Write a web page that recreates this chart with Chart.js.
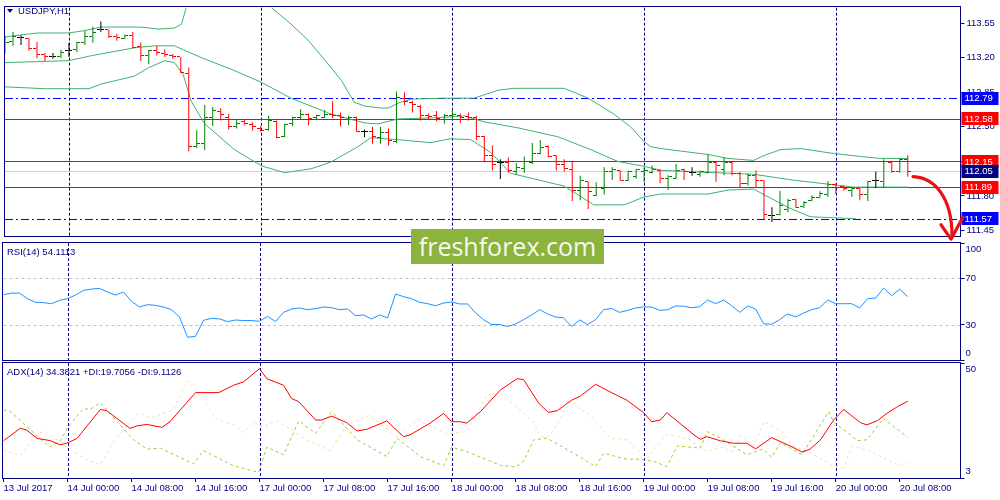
<!DOCTYPE html>
<html><head><meta charset="utf-8">
<script src="https://cdn.jsdelivr.net/npm/chart.js@4.4.1/dist/chart.umd.min.js"></script>
<style>
html,body{margin:0;padding:0;background:#fff;}
#wrap{position:relative;width:1000px;height:500px;overflow:hidden;background:#fff;font-family:"Liberation Sans",Arial,sans-serif;}
canvas{position:absolute;left:0;}
#cMain{top:0;} #cRsi{top:242px;} #cAdx{top:362px;}
.ttl{position:absolute;font-size:9.5px;color:#000080;white-space:nowrap;line-height:12px;}
#tri{position:absolute;left:7px;top:9px;width:0;height:0;border-left:3px solid transparent;border-right:3px solid transparent;border-top:4px solid #000080;}
#wm{position:absolute;left:411px;top:229px;width:193px;height:35px;background:#8db33f;color:#f6f9ef;font-family:"Open Sans",sans-serif;font-size:25px;line-height:34px;text-align:center;}
</style></head>
<body>
<div id="wrap">
<canvas id="cRsi" width="1000" height="120"></canvas>
<canvas id="cAdx" width="1000" height="138"></canvas>
<canvas id="cMain" width="1000" height="244"></canvas>
<div id="tri"></div>
<div class="ttl" style="left:18px;top:5px;">USDJPY,H1</div>
<div class="ttl" style="left:7px;top:246px;">RSI(14) 54.1113</div>
<div class="ttl" style="left:7px;top:366px;">ADX(14) 34.3821 +DI:19.7056 -DI:9.1126</div>
<div id="wm">freshforex.com</div>
</div>
<script>
// ---------- DATA ----------
const tickIdx = [0,8,16,24,32,40,48,56,64,72,80,88,96,104,112];
const tickLabels = ["13 Jul 2017","14 Jul 00:00","14 Jul 08:00","14 Jul 16:00","17 Jul 00:00","17 Jul 08:00","17 Jul 16:00","18 Jul 00:00","18 Jul 08:00","18 Jul 16:00","19 Jul 00:00","19 Jul 08:00","19 Jul 16:00","20 Jul 00:00","20 Jul 08:00"];
const daySepIdx = [8,32,56,80,104];
const priceTicks = [113.55,113.20,112.85,112.50,112.15,111.80,111.45];
const levelRed = [112.58,112.15,111.89];
const levelBlue = [112.79,111.57];
const bidPrice = 112.05;
const rsiLevels = [70,30];
const rsiAxis = [100,70,30,0];
const adxAxis = [50,3];

const openP = [113.296,113.361,113.400,113.390,113.296,113.231,113.215,113.208,113.273,113.280,
113.351,113.417,113.482,113.482,113.410,113.397,113.426,113.312,113.224,113.270,
113.247,113.221,113.208,113.045,112.303,112.336,112.596,112.655,112.596,112.499,
112.557,112.525,112.482,112.473,112.557,112.401,112.531,112.596,112.629,112.590,
112.596,112.629,112.613,112.570,112.596,112.456,112.450,112.394,112.440,112.352,
112.785,112.749,112.710,112.619,112.613,112.570,112.613,112.619,112.603,112.596,
112.401,112.206,112.134,112.141,112.049,112.082,112.141,112.232,112.303,112.206,
112.114,112.069,111.854,111.945,111.805,111.880,112.043,112.053,111.961,111.994,
112.043,112.036,112.059,111.978,111.978,112.069,112.036,112.017,112.036,112.134,
112.069,112.134,112.027,111.929,112.010,111.952,111.603,111.613,111.668,111.766,
111.691,111.750,111.789,111.815,111.919,111.896,111.854,111.874,111.815,111.952,
111.945,112.141,112.043,112.173];
const highP = [113.420,113.459,113.426,113.400,113.361,113.247,113.247,113.280,113.351,113.361,
113.469,113.514,113.566,113.485,113.443,113.433,113.459,113.351,113.280,113.319,
113.286,113.238,113.208,113.101,112.466,112.720,112.700,112.687,112.629,112.580,
112.580,112.547,112.505,112.613,112.564,112.531,112.603,112.678,112.635,112.622,
112.668,112.759,112.645,112.613,112.603,112.473,112.499,112.499,112.482,112.857,
112.850,112.765,112.720,112.635,112.661,112.629,112.678,112.635,112.645,112.613,
112.407,112.310,112.173,112.189,112.134,112.199,112.336,112.368,112.310,112.212,
112.173,112.157,112.004,111.945,111.939,112.092,112.092,112.059,112.059,112.075,
112.092,112.108,112.069,112.010,112.124,112.075,112.092,112.059,112.222,112.147,
112.189,112.147,112.043,112.027,112.059,111.961,111.685,111.854,111.773,111.773,
111.750,111.808,111.848,111.952,111.929,111.906,111.887,111.880,111.952,112.049,
112.173,112.157,112.180,112.212];
const lowP = [113.241,113.322,113.329,113.270,113.195,113.166,113.189,113.198,113.208,113.254,
113.329,113.351,113.459,113.400,113.371,113.390,113.296,113.166,113.133,113.221,
113.208,113.189,113.045,112.254,112.287,112.264,112.508,112.564,112.473,112.482,
112.515,112.460,112.450,112.460,112.385,112.394,112.505,112.580,112.515,112.580,
112.590,112.590,112.505,112.515,112.450,112.394,112.329,112.329,112.310,112.336,
112.720,112.645,112.564,112.570,112.557,112.531,112.570,112.538,112.564,112.368,
112.141,112.059,111.971,112.036,112.017,112.036,112.124,112.222,112.189,112.059,
112.049,111.750,111.756,111.668,111.799,111.815,111.961,111.952,111.952,111.978,
111.939,112.027,111.929,111.864,111.978,111.961,112.004,111.994,112.027,111.945,
112.010,112.010,111.880,111.906,111.880,111.561,111.538,111.603,111.636,111.678,
111.678,111.743,111.776,111.789,111.821,111.854,111.789,111.756,111.750,111.880,
111.880,112.036,112.036,111.994];
const closeP = [113.355,113.410,113.400,113.296,113.231,113.215,113.215,113.254,113.273,113.351,
113.417,113.459,113.482,113.410,113.400,113.426,113.303,113.224,113.270,113.254,
113.231,113.215,113.052,112.303,112.336,112.596,112.661,112.629,112.499,112.531,
112.531,112.505,112.466,112.564,112.394,112.525,112.596,112.629,112.580,112.613,
112.629,112.613,112.596,112.596,112.456,112.456,112.401,112.440,112.362,112.792,
112.759,112.726,112.619,112.603,112.580,112.619,112.622,112.596,112.590,112.407,
112.212,112.118,112.134,112.059,112.092,112.147,112.232,112.287,112.199,112.114,
112.075,111.854,111.952,111.841,111.887,112.043,112.069,111.961,112.043,112.069,
112.059,112.069,111.978,111.994,112.059,112.043,112.036,112.043,112.134,112.108,
112.134,112.027,111.929,112.010,111.952,111.613,111.603,111.701,111.750,111.685,
111.734,111.789,111.821,111.913,111.887,111.880,111.880,111.815,111.945,111.952,
112.147,112.043,112.173,112.049];

const bbUpper = [[0,113.41],[4,113.45],[8,113.45],[10,113.475],[12,113.51],[17,113.51],[19.2,113.49],[21.2,113.50],[22.1,113.54],[22.8,113.74],[24.6,113.86],[26.5,113.88],[28.7,113.87],[32.1,113.80],[33.3,113.71],[35.8,113.54],[37.9,113.38],[40,113.18],[40.8,113.10],[42.1,112.97],[43.7,112.75],[45,112.71],[47.1,112.69],[48,112.69],[49.2,112.74],[50.8,112.78],[54.6,112.79],[58.7,112.79],[61.7,112.87],[63.7,112.89],[70,112.89],[73,112.79],[76.2,112.63],[78.3,112.50],[80,112.35],[80.8,112.30],[82.1,112.28],[88,112.22],[90.5,112.18],[93.7,112.16],[95,112.21],[97.1,112.27],[99.6,112.28],[103.7,112.23],[107.1,112.20],[109.6,112.18],[113,112.18]];
const bbMid = [[0,113.15],[8,113.17],[10.8,113.22],[16.2,113.30],[18.7,113.32],[21.2,113.32],[24.6,113.20],[28.7,113.07],[32.1,112.95],[35.8,112.79],[40.8,112.63],[45,112.54],[46.7,112.53],[49.2,112.58],[53.3,112.59],[57.5,112.61],[60,112.55],[64.2,112.49],[69.2,112.40],[73.3,112.27],[76.7,112.15],[80,112.10],[82.1,112.06],[90.5,112.03],[93.7,112.02],[98.7,111.96],[103,111.92],[106.2,111.89],[113,111.89]];
const bbLower = [[0,112.905],[5,112.886],[10.5,112.886],[12.1,112.935],[16.2,113.013],[18,113.10],[20,113.17],[21.2,113.15],[22.3,113.03],[23.3,112.76],[25,112.53],[28.7,112.27],[32.1,112.105],[35,112.036],[38.3,112.075],[40.8,112.144],[44.2,112.30],[45.8,112.39],[49.2,112.37],[53.3,112.34],[55.8,112.38],[58.3,112.37],[60.8,112.24],[63.3,112.03],[70,111.90],[73.7,111.71],[77.5,111.71],[80,111.79],[82.1,111.82],[88,111.82],[90.5,111.86],[93.7,111.87],[95.8,111.78],[98,111.685],[100.8,111.59],[106.5,111.57]];

const rsiVals = [55.8,57.2,57.2,52.4,49.3,49.0,48.1,51.0,52.4,55.5,
59.5,60.6,61.2,58.1,55.5,58.1,50.1,45.3,47.3,46.7,
45.3,43.0,36.8,19.4,20.3,33.9,35.6,35.1,32.8,34.2,
33.7,33.7,33.1,37.3,32.8,40.7,43.6,44.5,43.0,43.9,
45.3,44.7,43.0,43.6,37.9,38.5,35.1,38.5,36.0,56.4,
54.1,52.4,49.3,48.1,46.4,48.7,49.6,47.9,47.9,40.2,
34.5,30.3,30.4,28.6,30.8,34.5,38.5,43.0,39.4,36.8,
36.0,28.6,34.2,30.3,34.5,43.0,44.1,40.7,42.4,44.5,
45.3,45.3,42.4,43.0,46.2,46.0,44.7,45.5,51.3,48.1,
51.3,46.4,40.7,46.2,43.6,30.8,30.6,34.5,39.4,36.8,
40.2,43.0,44.7,51.3,48.1,48.1,48.1,44.5,52.4,53.0,
61.5,54.9,60.6,54.1];

const adxLine = [[0,18.2],[2.1,23.3],[2.9,22.6],[4.2,19.2],[5.8,18.3],[7.1,16.5],[8.1,17.5],[9.2,19.2],[12.1,31.0],[12.9,30.5],[15.8,23.3],[16.7,24.3],[17.9,24.9],[19.8,23.7],[20.8,26.0],[24,37.9],[26.9,37.9],[28.75,40.9],[30,42.3],[32,47.7],[32.9,43.6],[35,40.9],[36,35.5],[36.9,34.2],[39,26.7],[39.8,26.7],[41,28.3],[42.9,25.6],[44.2,22.2],[45.4,22.9],[47.9,26.3],[50,19.9],[50.8,20.6],[53.3,25.4],[55,29.4],[56,26.0],[57.1,26.0],[57.9,25.4],[59.6,30.1],[62.1,39.0],[64.2,43.6],[65,43.2],[66.9,33.5],[68.1,29.8],[69.2,30.5],[71,34.8],[72.1,36.5],[74,41.3],[75.8,38.2],[77.9,34.8],[80,29.7],[81,26.0],[82.1,26.7],[82.9,29.7],[86.3,20.6],[87.1,18.8],[87.9,19.9],[89.6,18.2],[91.25,17.2],[92.9,17.2],[94,14.9],[96,19.5],[98.3,16.1],[99.8,13.6],[100.8,14.8],[102.1,18.6],[103.75,26.7],[105,31.0],[107.1,25.6],[107.9,24.7],[109.2,26.4],[110.4,29.4],[111.7,32.1],[113,34.4]];
const plusDI = [[0,30.8],[0.8,30.4],[4.2,20.2],[5.8,15.6],[7.1,18.3],[8.1,24.0],[10,31.4],[10.8,31.0],[12.1,33.7],[12.9,30.8],[16.25,18.6],[17.9,14.8],[19.6,15.2],[23.75,8.8],[25,14.2],[28.75,8.0],[31.9,5.3],[32.9,15.6],[35,12.5],[36.9,26.3],[39,21.3],[41,30.1],[44.2,18.6],[47.9,11.8],[49.2,19.2],[52.1,11.8],[55,8.0],[56,15.6],[57.9,13.8],[62.1,8.2],[64,7.5],[65,9.8],[66.25,18.6],[67.9,19.3],[71.25,13.1],[74,7.7],[75,13.1],[77.9,10.7],[79.6,10.7],[81.25,9.8],[82.9,7.7],[84.2,16.1],[87.1,15.2],[87.9,22.0],[89.6,19.3],[92.9,12.5],[94.9,14.8],[96,11.5],[97.1,17.5],[99.8,12.5],[103.1,30.1],[103.75,26.0],[106.7,18.3],[107.9,18.6],[110,27.4],[111.25,24.0],[113,19.7]];
const minusDI = [[0,14.5],[2.1,12.1],[4.2,21.0],[5,22.0],[7.1,17.9],[8.1,15.2],[10.4,10.4],[12.1,8.4],[13.75,17.9],[16.9,29.7],[18.3,27.4],[21.25,30.8],[22.9,42.7],[24.2,38.2],[26.7,26.7],[28.75,24.7],[30,21.6],[31.25,26.0],[32.5,24.0],[34.2,26.4],[37.9,18.6],[40.8,14.2],[42.9,24.7],[45.8,28.7],[49.2,19.7],[51.7,27.0],[53.3,24.3],[55.4,21.0],[57.9,22.0],[60.4,36.9],[62.1,37.5],[66.25,26.0],[67.1,19.9],[68.3,20.2],[71,34.8],[72.1,30.8],[72.9,30.1],[75.8,19.3],[77.9,18.6],[80.4,11.1],[82.9,21.0],[85.8,18.6],[87.9,13.8],[89.6,15.6],[91.25,13.8],[92.1,20.6],[93.75,16.1],[95,26.0],[97.1,22.6],[98.75,15.9],[101.25,12.5],[103.75,8.0],[105,7.1],[106,15.9],[107.9,14.5],[110,11.1],[112.1,8.0],[113,9.1]];

// annotation arrow, in (bar index, price) units
const arrowCurve = [[113.66,111.997],[116.41,111.987],[118.54,111.782],[118.54,111.392]];
const arrowHead = [[117.16,111.509],[118.41,111.363],[119.91,111.587]];

// ---------- STYLE ----------
const NAVY = '#000080', GREEN = '#008000', RED = '#ff0000', BLACK = '#000000', BLUE = '#0000ff';
const BB = '#3cb371';
const FONT = {family: '"Liberation Sans", Arial, sans-serif', size: 9.5};
const FONTSTR = '9.5px "Liberation Sans", Arial, sans-serif';
const XMIN = 0, XMAX = 119.6;

Chart.defaults.animation = false;
Chart.defaults.events = [];
Chart.defaults.plugins.legend.display = false;
Chart.defaults.plugins.tooltip.enabled = false;

const kind = i => closeP[i] > openP[i] ? 'up' : (closeP[i] < openP[i] ? 'down' : 'flat');
const kindColor = {up: GREEN, down: RED, flat: BLACK};
function tickCanvas(color, side) {
  const c = document.createElement('canvas'); c.width = 7; c.height = 1;
  const g = c.getContext('2d'); g.fillStyle = color;
  if (side === 'open') g.fillRect(0, 0, 3, 1); else g.fillRect(4, 0, 3, 1);
  return c;
}
const tickImg = {open: {}, close: {}};
['up','down','flat'].forEach(k => { tickImg.open[k] = tickCanvas(kindColor[k], 'open'); tickImg.close[k] = tickCanvas(kindColor[k], 'close'); });

const pts = arr => arr.map(([x, y]) => ({x, y}));

const framePlugin = {
  id: 'frame',
  beforeDatasetsDraw(chart) {
    const {ctx, chartArea: a, scales: {x}} = chart;
    ctx.save();
    ctx.strokeStyle = NAVY; ctx.lineWidth = 1; ctx.setLineDash([3, 2]);
    daySepIdx.forEach(v => {
      const px = Math.round(x.getPixelForValue(v)) + 0.5;
      ctx.beginPath(); ctx.moveTo(px, a.top); ctx.lineTo(px, a.bottom); ctx.stroke();
    });
    ctx.restore();
  },
  afterDraw(chart) {
    const {ctx, chartArea: a} = chart;
    ctx.save();
    ctx.strokeStyle = NAVY; ctx.lineWidth = 1; ctx.setLineDash([]);
    const l = Math.floor(a.left) - 0.5, t = Math.floor(a.top) - 0.5, b = Math.floor(a.bottom) + 0.5, r = Math.floor(a.right) + 0.5;
    ctx.strokeRect(l, t, r - l, b - t);
    ctx.restore();
  }
};

function makeSideLabels(values) {
  return {
    id: 'sideLabels',
    afterDraw(chart) {
      const {ctx, chartArea: a, scales: {y}} = chart;
      ctx.save(); ctx.font = FONTSTR; ctx.fillStyle = NAVY; ctx.textBaseline = 'middle'; ctx.textAlign = 'left';
      values.forEach(v => {
        let py = y.getPixelForValue(v);
        py = Math.min(Math.max(py, a.top + 6.5), a.bottom - 7);
        ctx.fillText(String(v), a.right + 5, py);
      });
      ctx.restore();
    }
  };
}

function makeHLines(lines, crispImages) {
  return {
    id: 'hLines',
    beforeDatasetsDraw(chart) {
      const {ctx, chartArea: a, scales: {y}} = chart;
      lines.forEach(L => {
        const py = Math.round(y.getPixelForValue(L.v)) + 0.5;
        ctx.save();
        ctx.strokeStyle = L.c; ctx.lineWidth = 1; ctx.setLineDash(L.d ? L.d : []);
        ctx.beginPath(); ctx.moveTo(a.left, py); ctx.lineTo(a.right, py); ctx.stroke();
        ctx.restore();
      });
      if (crispImages) ctx.imageSmoothingEnabled = false;
    },
    afterDatasetsDraw(chart) { chart.ctx.imageSmoothingEnabled = true; }
  };
}

const priceBoxes = {
  id: 'priceBoxes',
  afterDraw(chart) {
    const {ctx, chartArea: a, scales: {x, y}} = chart;
    ctx.save();
    const boxes = [];
    levelBlue.forEach(v => boxes.push({v, c: BLUE}));
    levelRed.forEach(v => boxes.push({v, c: RED}));
    boxes.push({v: bidPrice, c: NAVY});
    ctx.font = FONTSTR; ctx.textBaseline = 'middle'; ctx.textAlign = 'left';
    boxes.forEach(B => {
      const py = y.getPixelForValue(B.v);
      ctx.fillStyle = B.c; ctx.fillRect(a.right + 1, Math.round(py - 6.5), 37, 13);
      ctx.fillStyle = '#ffffff'; ctx.fillText(B.v.toFixed(2), a.right + 4, py + 0.5);
    });
    // hand-drawn style arrow
    const P = ([i, p]) => [x.getPixelForValue(i), y.getPixelForValue(p)];
    const c = arrowCurve.map(P), h = arrowHead.map(P);
    ctx.strokeStyle = '#e81212'; ctx.lineWidth = 3.2; ctx.lineCap = 'round'; ctx.lineJoin = 'round'; ctx.setLineDash([]);
    ctx.beginPath(); ctx.moveTo(c[0][0], c[0][1]);
    ctx.bezierCurveTo(c[1][0], c[1][1], c[2][0], c[2][1], c[3][0], c[3][1]);
    ctx.stroke();
    ctx.beginPath(); ctx.moveTo(h[0][0], h[0][1]); ctx.lineTo(h[1][0], h[1][1]); ctx.lineTo(h[2][0], h[2][1]); ctx.stroke();
    ctx.restore();
  }
};

const yRight = (min, max, extra) => Object.assign({
  type: 'linear', position: 'right', min, max,
  afterFit(s) { s.width = 39.5; },
  grid: {drawOnChartArea: false, drawTicks: true, tickLength: 4, color: NAVY},
  border: {color: NAVY, width: 1},
}, extra);

const mainLines = [{v: bidPrice, c: '#d3d3d3'}]
  .concat(levelRed.map(v => ({v, c: RED})))
  .concat(levelBlue.map(v => ({v, c: BLUE, d: [8, 3, 2, 3]})));

// ---------- MAIN PRICE CHART ----------
new Chart(document.getElementById('cMain'), {
  type: 'bar',
  data: {
    datasets: [
      {type: 'line', showLine: false, order: 0, data: openP.map((v, i) => ({x: i, y: v})),
       pointStyle: ctx => tickImg.open[kind(ctx.dataIndex)], pointRadius: 2},
      {type: 'line', showLine: false, order: 0, data: closeP.map((v, i) => ({x: i, y: v})),
       pointStyle: ctx => tickImg.close[kind(ctx.dataIndex)], pointRadius: 2},
      {type: 'bar', order: 0, data: openP.map((v, i) => ({x: i, y: [lowP[i], highP[i]]})),
       backgroundColor: ctx => kindColor[kind(ctx.dataIndex)], barThickness: 1, borderWidth: 0, inflateAmount: 0},
      {type: 'line', order: 1, data: pts(bbUpper), borderColor: BB, borderWidth: 1, pointRadius: 0, fill: false},
      {type: 'line', order: 1, data: pts(bbMid), borderColor: BB, borderWidth: 1, pointRadius: 0, fill: false},
      {type: 'line', order: 1, data: pts(bbLower), borderColor: BB, borderWidth: 1, pointRadius: 0, fill: false}
    ]
  },
  options: {
    responsive: false, devicePixelRatio: 1,
    layout: {padding: {left: 3.5, top: 3, bottom: 4, right: 0}},
    scales: {
      x: {type: 'linear', min: XMIN, max: XMAX, offset: false, display: false},
      y: yRight(111.392, 113.706, {
        afterBuildTicks(s) { s.ticks = priceTicks.map(v => ({value: v})); },
        ticks: {color: NAVY, font: FONT, padding: 2, autoSkip: false, callback: v => Number(v).toFixed(2)}
      })
    }
  },
  plugins: [framePlugin, makeHLines(mainLines, true), priceBoxes]
});

// ---------- RSI ----------
new Chart(document.getElementById('cRsi'), {
  type: 'line',
  data: {datasets: [
    {data: rsiVals.map((v, i) => ({x: i, y: v})), borderColor: '#1e90ff', borderWidth: 1, pointRadius: 0, fill: false}
  ]},
  options: {
    responsive: false, devicePixelRatio: 1,
    layout: {padding: {left: 3.5, top: 1, bottom: 2, right: 0}},
    scales: {
      x: {type: 'linear', min: XMIN, max: XMAX, offset: false, display: false},
      y: yRight(0, 100, {
        afterBuildTicks(s) { s.ticks = rsiAxis.map(v => ({value: v})); },
        ticks: {display: false}
      })
    }
  },
  plugins: [framePlugin, makeHLines(rsiLevels.map(v => ({v, c: '#c0c0c0', d: [3, 3]})), false), makeSideLabels(rsiAxis)]
});

// ---------- ADX ----------
new Chart(document.getElementById('cAdx'), {
  type: 'line',
  data: {datasets: [
    {data: pts(adxLine), borderColor: '#ff0000', borderWidth: 1, pointRadius: 0, fill: false},
    {data: pts(plusDI), borderColor: '#9acd32', borderWidth: 1, borderDash: [3, 3], pointRadius: 0, fill: false},
    {data: pts(minusDI), borderColor: '#f5deb3', borderWidth: 1, borderDash: [3, 3], pointRadius: 0, fill: false}
  ]},
  options: {
    responsive: false, devicePixelRatio: 1,
    layout: {padding: {left: 3.5, top: 1, bottom: 0, right: 0}},
    scales: {
      x: {type: 'linear', min: XMIN, max: XMAX, offset: false, position: 'bottom',
        afterBuildTicks(s) { s.ticks = tickIdx.map(v => ({value: v})); },
        afterFit(s) { s.height = 22; },
        ticks: {autoSkip: false, maxRotation: 0, minRotation: 0, align: 'start', color: NAVY, font: FONT, padding: 1,
                callback: (v, idx) => tickLabels[idx]},
        grid: {drawOnChartArea: false, drawTicks: true, tickLength: 4, color: NAVY},
        border: {color: NAVY, width: 1}
      },
      y: yRight(3, 50, {
        afterBuildTicks(s) { s.ticks = adxAxis.map(v => ({value: v})); },
        ticks: {display: false}
      })
    }
  },
  plugins: [framePlugin, makeSideLabels(adxAxis)]
});
</script>
</body></html>
